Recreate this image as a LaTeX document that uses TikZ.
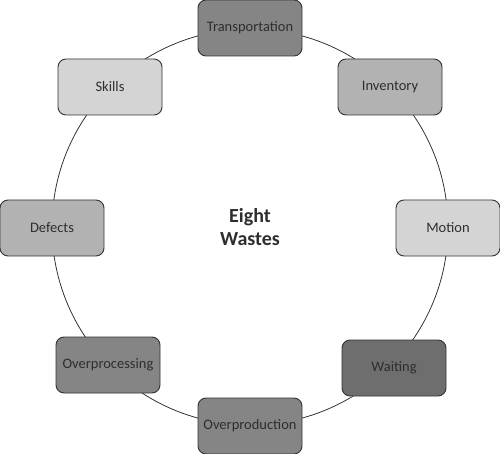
\documentclass[tikz,border=0pt]{standalone}
\usepackage{fontspec}
\setmainfont{Carlito}
\definecolor{txt}{HTML}{2E2E2E}
\definecolor{lineclr}{HTML}{333333}
\definecolor{gA}{HTML}{858585}
\definecolor{gB}{HTML}{B2B2B2}
\definecolor{gC}{HTML}{D4D4D4}
\definecolor{gD}{HTML}{6E6E6E}
\tikzset{
  waste/.style={draw=lineclr, line width=0.9pt, rounded corners=8pt,
    minimum width=104pt, minimum height=56pt, inner sep=0pt,
    font=\fontsize{14.5}{16}\selectfont, text=txt},
  ring/.style={draw=lineclr, line width=0.8pt},
}
\begin{document}
\begin{tikzpicture}[x=1pt,y=-1pt]
\useasboundingbox (0,0) rectangle (500,454);
\coordinate (c) at (250,227);
\draw[ring] (c) circle[radius=198pt];
\node[waste, fill=gA] (transport) at (250,28) {Transportation};
\node[waste, fill=gB] (inventory) at (390,87) {Inventory};
\node[waste, fill=gC] (motion) at (448,228) {Motion};
\node[waste, fill=gD] (waiting) at (394,368) {Waiting};
\node[waste, fill=gA] (overprod) at (250,426) {Overproduction};
\node[waste, fill=gA] (overproc) at (108,365) {Overprocessing};
\node[waste, fill=gB] (defects) at (52,228) {Defects};
\node[waste, fill=gC] (skills) at (110,87) {Skills};
\node[font=\bfseries\fontsize{20}{23}\selectfont, text=txt, align=center] (title) at (c) {Eight\\Wastes};
\end{tikzpicture}
\end{document}
